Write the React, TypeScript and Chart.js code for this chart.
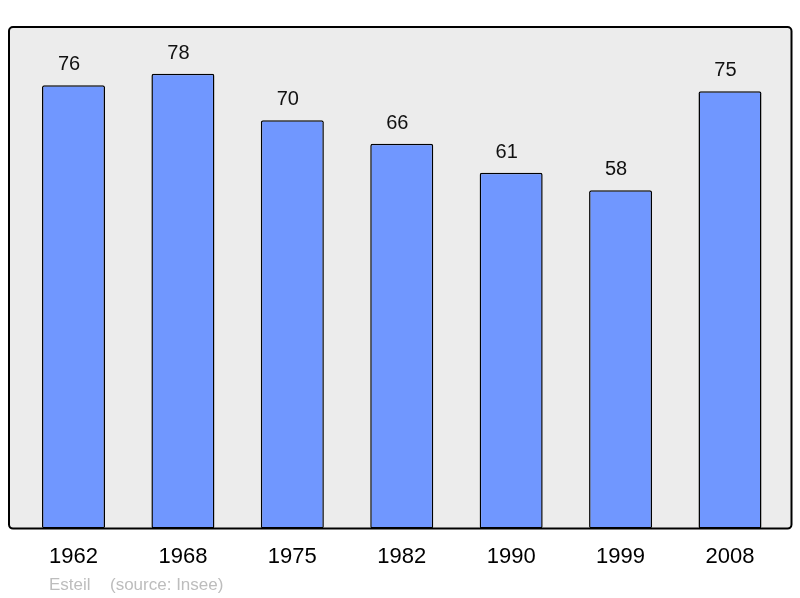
import React, { useEffect, useRef } from "react";
import { Chart, registerables } from "chart.js";

Chart.register(...registerables);

const years = ["1962", "1968", "1975", "1982", "1990", "1999", "2008"];
const population = [76, 78, 70, 66, 61, 58, 75];
const yMax = 86;
const footerAuthor = "Esteil";
const footerSource = "(source: Insee)";

const FONT = "'Liberation Sans', Arial, sans-serif";

const boxPlugin = {
  id: "boxPlugin",
  beforeDraw(chart: any) {
    const { ctx, chartArea } = chart;
    const l = chartArea.left - 9.8;
    const r = chartArea.right + 6.8;
    const t = chartArea.top;
    const b = chartArea.bottom;
    ctx.save();
    ctx.fillStyle = "#ececec";
    ctx.beginPath();
    ctx.roundRect(l, t, r - l, b - t, 4);
    ctx.fill();
    ctx.restore();
  },
  afterDatasetsDraw(chart: any) {
    const { ctx, chartArea } = chart;
    const l = chartArea.left - 9.8;
    const r = chartArea.right + 6.8;
    const t = chartArea.top;
    const b = chartArea.bottom;
    ctx.save();
    ctx.strokeStyle = "#000";
    ctx.lineWidth = 2;
    ctx.beginPath();
    ctx.roundRect(l, t, r - l, b - t, 4);
    ctx.stroke();

    // value labels
    const meta = chart.getDatasetMeta(0);
    ctx.fillStyle = "#111";
    ctx.font = `20px ${FONT}`;
    ctx.textAlign = "center";
    ctx.textBaseline = "alphabetic";
    meta.data.forEach((bar: any, i: number) => {
      ctx.fillText(String(population[i]), bar.x - 4.5, bar.y - 15);
    });

    // footer
    ctx.fillStyle = "#bdbdbd";
    ctx.font = `17px ${FONT}`;
    ctx.textAlign = "left";
    ctx.fillText(footerAuthor, 49, 590);
    ctx.fillText(footerSource, 110, 590);
    ctx.restore();
  },
};

export default function App() {
  const ref = useRef<HTMLCanvasElement | null>(null);
  useEffect(() => {
    document.body.style.margin = "0";
    const chart = new Chart(ref.current!, {
      type: "bar",
      data: {
        labels: years,
        datasets: [
          {
            data: population,
            backgroundColor: "#7097ff",
            borderColor: "#000",
            borderWidth: 1.5,
            borderRadius: 2,
            borderSkipped: false,
            barPercentage: 0.576,
            categoryPercentage: 1,
          },
        ],
      },
      options: {
        animation: false,
        responsive: false,
        devicePixelRatio: 1,
        layout: { padding: { left: 18.8, right: 15.3, top: 27, bottom: 13 } },
        plugins: { legend: { display: false }, tooltip: { enabled: false } },
        scales: {
          x: {
            offset: true,
            grid: { display: false, drawTicks: false },
            border: { display: false },
            ticks: {
              padding: 15,
              color: "#000",
              font: { family: FONT, size: 22 },
              maxRotation: 0,
            },
          },
          y: {
            display: false,
            min: 0,
            max: yMax,
          },
        },
      },
      plugins: [boxPlugin],
    });
    return () => chart.destroy();
  }, []);
  return (
    <div style={{ position: "absolute", left: 0, top: 0, width: 800, height: 598 }}>
      <canvas ref={ref} width={800} height={598} style={{ width: 800, height: 598 }} />
    </div>
  );
}
